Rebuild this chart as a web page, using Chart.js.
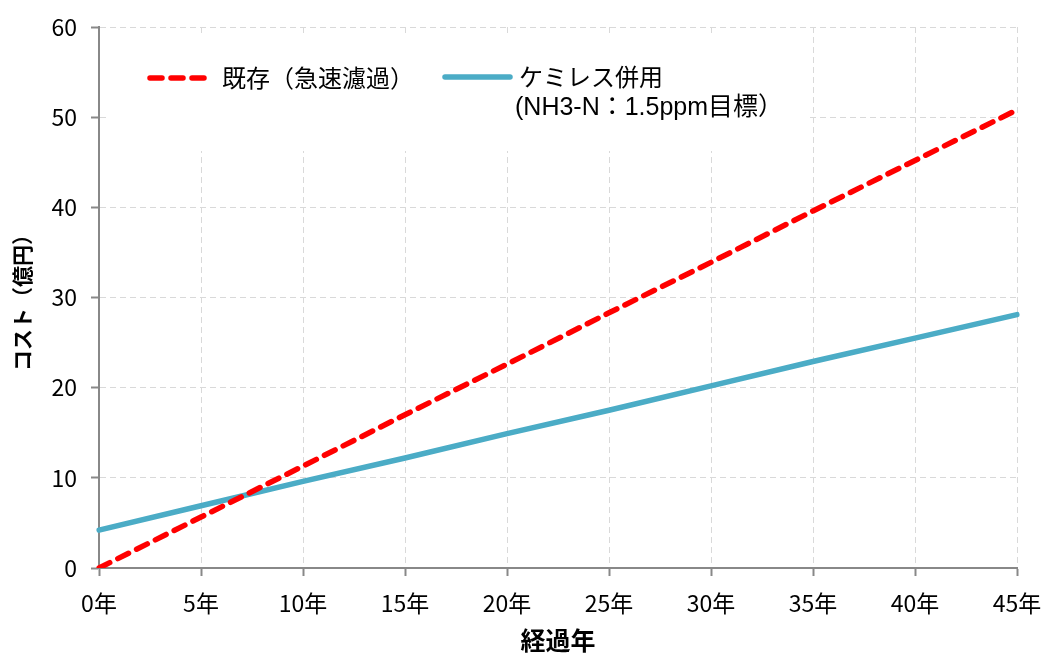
<!DOCTYPE html>
<html>
<head>
<meta charset="utf-8">
<script src="https://cdn.jsdelivr.net/npm/chart.js@4.4.1/dist/chart.umd.min.js"></script>
<style>
  html, body { margin: 0; padding: 0; background: #fff; }
  #wrap { width: 1043px; height: 655px; position: relative; }
</style>
</head>
<body>
<div id="wrap"><canvas id="c" width="1043" height="655"></canvas></div>
<script>
// Elapsed years and their axis labels
const years = [0, 5, 10, 15, 20, 25, 30, 35, 40, 45];
const yearLabels = ['0年', '5年', '10年', '15年', '20年', '25年', '30年', '35年', '40年', '45年'];

// Cumulative cost (億円)
const existingCost  = [0, 5.65, 11.3, 17.0, 22.6, 28.3, 33.9, 39.6, 45.2, 50.8];   // 既存（急速濾過）
const chemilessCost = [4.2, 6.9, 9.6, 12.2, 14.9, 17.5, 20.2, 22.9, 25.5, 28.1];   // ケミレス併用

// Series names (second line of the chemiless entry is drawn below the first)
const seriesNames = ['既存（急速濾過）', 'ケミレス併用'];
const chemilessNote = '(NH3-N：1.5ppm目標）';

// Value axis range
const yMin = 0, yMax = 60, yStep = 10;

const CJK = '"Noto Sans CJK JP", "Noto Sans"';

// White legend panel drawn over the grid, inside the plot area
const legendPanel = {
  id: 'legendPanel',
  beforeDatasetsDraw(chart) {
    const ctx = chart.ctx;
    const { left, top } = chart.chartArea;
    const ds = chart.data.datasets;
    ctx.save();
    ctx.fillStyle = '#ffffff';
    ctx.fillRect(left + 7, top + 7, 702, 117);

    // 既存 entry
    ctx.lineWidth = ds[0].borderWidth;
    ctx.strokeStyle = ds[0].borderColor;
    ctx.lineCap = 'round';
    ctx.setLineDash(ds[0].borderDash);
    ctx.beginPath();
    ctx.moveTo(left + 51, top + 51);
    ctx.lineTo(left + 109, top + 51);
    ctx.stroke();

    // ケミレス entry
    ctx.lineWidth = ds[1].borderWidth;
    ctx.strokeStyle = ds[1].borderColor;
    ctx.setLineDash([]);
    ctx.beginPath();
    ctx.moveTo(left + 346, top + 50);
    ctx.lineTo(left + 411, top + 50);
    ctx.stroke();

    ctx.fillStyle = '#000';
    ctx.textBaseline = 'middle';
    ctx.textAlign = 'left';
    ctx.font = '24px ' + CJK;
    ctx.fillText(ds[0].label, left + 123, top + 51);
    ctx.fillText(ds[1].label, left + 420, top + 50);
    ctx.font = '25px "Liberation Sans", ' + CJK;
    ctx.fillText(chemilessNote, left + 416, top + 81);
    ctx.restore();
  }
};

new Chart(document.getElementById('c'), {
  type: 'line',
  data: {
    labels: yearLabels,
    datasets: [
      {
        label: seriesNames[0],
        data: existingCost,
        borderColor: '#ff0000',
        borderWidth: 5.5,
        borderDash: [12, 9],
        borderCapStyle: 'round',
        pointRadius: 0,
        tension: 0,
        fill: false
      },
      {
        label: seriesNames[1],
        data: chemilessCost,
        borderColor: '#4bacc6',
        borderWidth: 5.5,
        borderCapStyle: 'round',
        pointRadius: 0,
        tension: 0,
        fill: false
      }
    ]
  },
  options: {
    responsive: false,
    animation: false,
    devicePixelRatio: 1,
    layout: { padding: { top: 27, right: 26, left: 0, bottom: 0 } },
    plugins: {
      legend: { display: false },
      tooltip: { enabled: false }
    },
    scales: {
      x: {
        type: 'category',
        offset: false,
        afterFit(scale) {
          scale.height = 87;
          scale.paddingLeft = 0;
          scale.paddingRight = 0;
        },
        grid: {
          color: '#d9d9d9',
          lineWidth: 1,
          tickColor: '#888888',
          tickWidth: 2,
          tickLength: 8,
          tickBorderDash: []
        },
        border: { display: true, color: '#888888', width: 2, dash: [6, 4] },
        ticks: {
          color: '#000',
          font: { family: CJK, size: 23 },
          padding: 13,
          maxRotation: 0,
          autoSkip: false
        },
        title: {
          display: true,
          text: '経過年',
          color: '#000',
          font: { family: CJK, size: 25, weight: 'bold' },
          padding: { top: 0, bottom: 0 }
        }
      },
      y: {
        min: yMin,
        max: yMax,
        afterFit(scale) {
          scale.width = 99;
          scale.paddingTop = 0;
          scale.paddingBottom = 0;
        },
        grid: {
          color: '#d9d9d9',
          lineWidth: 1,
          tickColor: '#888888',
          tickWidth: 2,
          tickLength: 8,
          tickBorderDash: []
        },
        border: { display: true, color: '#888888', width: 2, dash: [6, 4] },
        ticks: {
          stepSize: yStep,
          color: '#000',
          font: { family: CJK, size: 23 },
          padding: 14
        },
        title: {
          display: true,
          text: 'コスト（億円）',
          color: '#000',
          font: { family: CJK, size: 21, weight: 'bold' },
          padding: { top: 9, bottom: 9 }
        }
      }
    }
  },
  plugins: [legendPanel]
});
</script>
</body>
</html>
